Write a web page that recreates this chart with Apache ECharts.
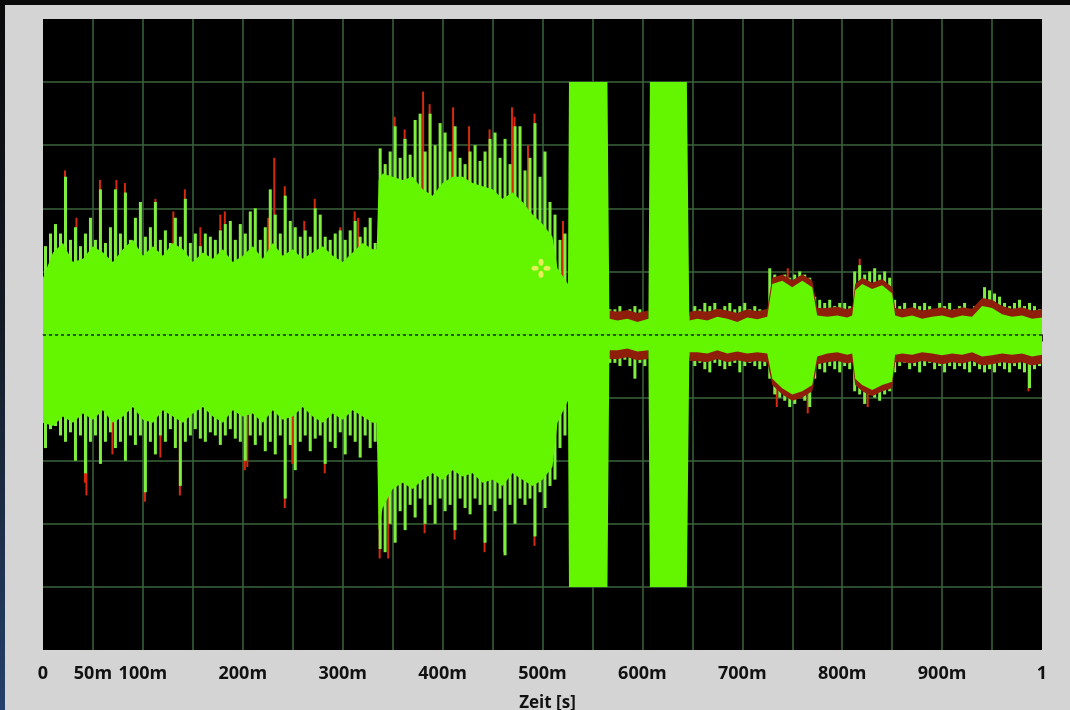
<!DOCTYPE html>
<html>
<head>
<meta charset="utf-8">
<script src="https://cdn.jsdelivr.net/npm/echarts@6/dist/echarts.min.js"></script>
<style>
  html, body { margin: 0; padding: 0; width: 1070px; height: 710px; overflow: hidden;
    background: linear-gradient(to bottom, #0a0a0b 0%, #141a24 45%, #25406a 100%); }
  #chart { position: absolute; left: 5px; top: 5px; width: 1065px; height: 705px; }
</style>
</head>
<body>
<div id="chart"></div>
<script>
// envelope of the signal (1 unit = 1 grid division)
var bodyT = [0, 0.01, 0.02, 0.03, 0.04, 0.05, 0.06, 0.07, 0.08, 0.09, 0.10, 0.11, 0.12, 0.13, 0.14, 0.15, 0.16,
  0.17, 0.18, 0.19, 0.20, 0.21, 0.22, 0.23, 0.24, 0.25, 0.26, 0.27, 0.28, 0.29, 0.30, 0.31, 0.32, 0.33, 0.334,
  0.336, 0.34, 0.35, 0.36, 0.37, 0.38, 0.39, 0.40, 0.41, 0.42, 0.43, 0.44, 0.45, 0.46, 0.47, 0.48, 0.49, 0.50, 0.51, 0.515, 0.5255,
  0.5265, 0.565, 0.567,
  0.575, 0.585, 0.595, 0.606,
  0.6075, 0.6445, 0.647,
  0.655, 0.665, 0.675, 0.685, 0.695, 0.705, 0.715, 0.725,
  0.73, 0.74, 0.75, 0.76, 0.77, 0.775,
  0.785, 0.795, 0.805, 0.81,
  0.813, 0.82, 0.83, 0.84, 0.85, 0.853,
  0.86, 0.87, 0.88, 0.89, 0.90, 0.91, 0.92, 0.93, 0.94, 0.95, 0.96, 0.97, 0.98, 0.99, 1.0];

var bodyUp = [0.9, 1.3, 1.45, 1.15, 1.2, 1.4, 1.3, 1.15, 1.35, 1.5, 1.25, 1.4, 1.25, 1.45, 1.35, 1.15, 1.3,
  1.2, 1.35, 1.15, 1.25, 1.4, 1.2, 1.45, 1.25, 1.35, 1.2, 1.3, 1.4, 1.25, 1.15, 1.3, 1.45, 1.35, 1.35,
  2.45, 2.55, 2.5, 2.45, 2.5, 2.3, 2.2, 2.4, 2.5, 2.5, 2.4, 2.35, 2.3, 2.15, 2.25, 2.1, 1.9, 1.75, 1.55, 1.05, 0.8,
  4, 4, 0.25,
  0.22, 0.25, 0.2, 0.25,
  4, 4, 0.22,
  0.25, 0.22, 0.28, 0.25, 0.2, 0.27, 0.24, 0.28,
  0.8, 0.85, 0.75, 0.85, 0.75, 0.3,
  0.28, 0.3, 0.27, 0.3,
  0.7, 0.8, 0.72, 0.78, 0.65, 0.3,
  0.27, 0.3, 0.25, 0.28, 0.3, 0.26, 0.3, 0.28, 0.45, 0.42, 0.32, 0.28, 0.3, 0.25, 0.27];

var bodyDn = [-1.4, -1.45, -1.3, -1.4, -1.25, -1.35, -1.2, -1.4, -1.3, -1.15, -1.35, -1.4, -1.2, -1.3, -1.4, -1.25, -1.15,
  -1.3, -1.4, -1.2, -1.3, -1.25, -1.4, -1.2, -1.35, -1.3, -1.15, -1.3, -1.4, -1.25, -1.35, -1.2, -1.3, -1.4, -1.4,
  -3.1, -2.75, -2.45, -2.35, -2.45, -2.3, -2.2, -2.3, -2.15, -2.25, -2.2, -2.35, -2.3, -2.4, -2.2, -2.3, -2.4, -2.3, -2.1, -1.4, -1.05,
  -4, -4, -0.25,
  -0.25, -0.22, -0.27, -0.25,
  -4, -4, -0.28,
  -0.28, -0.3, -0.25, -0.3, -0.27, -0.3, -0.28, -0.3,
  -0.7, -0.85, -0.95, -0.9, -0.8, -0.35,
  -0.3, -0.28, -0.32, -0.3,
  -0.7, -0.8, -0.88, -0.8, -0.75, -0.32,
  -0.3, -0.32, -0.28, -0.3, -0.33, -0.3, -0.32, -0.28, -0.35, -0.33, -0.3, -0.32, -0.3, -0.35, -0.32];

// red fringe, only where the trace is quiet (null = no fringe visible)
var redUp = [null, null, null, null, null, null, null, null, null, null, null, null, null, null, null, null, null,
  null, null, null, null, null, null, null, null, null, null, null, null, null, null, null, null, null, null,
  null, null, null, null, null, null, null, null, null, null, null, null, null, null, null, null, null, null, null, null, null,
  null, null, 0.38,
  0.36, 0.39, 0.34, 0.38,
  null, null, 0.36,
  0.38, 0.36, 0.41, 0.38, 0.34, 0.4, 0.37, 0.41,
  0.9, 0.95, 0.86, 0.95, 0.86, 0.42,
  0.42, 0.44, 0.4, 0.43,
  0.8, 0.9, 0.82, 0.88, 0.75, 0.42,
  0.4, 0.43, 0.38, 0.41, 0.43, 0.39, 0.43, 0.41, 0.58, 0.55, 0.45, 0.41, 0.43, 0.38, 0.4];

var redDn = [null, null, null, null, null, null, null, null, null, null, null, null, null, null, null, null, null,
  null, null, null, null, null, null, null, null, null, null, null, null, null, null, null, null, null, null,
  null, null, null, null, null, null, null, null, null, null, null, null, null, null, null, null, null, null, null, null, null,
  null, null, -0.39,
  -0.39, -0.36, -0.41, -0.39,
  null, null, -0.42,
  -0.42, -0.44, -0.39, -0.44, -0.41, -0.44, -0.42, -0.44,
  -0.8, -0.95, -1.05, -1.0, -0.9, -0.47,
  -0.44, -0.42, -0.46, -0.44,
  -0.8, -0.9, -0.98, -0.9, -0.85, -0.44,
  -0.44, -0.46, -0.42, -0.44, -0.47, -0.44, -0.46, -0.42, -0.49, -0.47, -0.44, -0.46, -0.44, -0.49, -0.46];

// tallest spike in each 5 ms slot (null where the trace is clipped at +-4)
var spikeStart = 0.0025, spikeStep = 0.005;
var spikeUp = [1.4, 1.6, 1.75, 1.6, 2.5, 1.5, 1.7, 1.4, 1.6, 1.85,
  1.5, 2.3, 1.45, 1.7, 2.3, 1.6, 2.25, 1.5, 1.85, 2.1,
  1.55, 1.7, 2.1, 1.5, 1.65, 1.45, 1.85, 1.55, 2.15, 1.45,
  1.6, 1.4, 1.6, 1.55, 1.5, 1.65, 1.75, 1.8, 1.5, 1.75,
  1.6, 1.95, 2.0, 1.5, 1.7, 2.3, 1.9, 1.6, 2.2, 1.8,
  1.7, 1.55, 1.65, 1.55, 2.0, 1.9, 1.55, 1.5, 1.6, 1.65,
  1.5, 1.65, 1.8, 1.55, 1.7, 1.85, 1.45, 2.95, 2.7, 2.9,
  3.3, 2.8, 3.1, 2.85, 3.4, 3.5, 2.9, 3.5, 3.0, 3.35,
  3.2, 2.9, 3.3, 2.8, 2.7, 2.9, 3.0, 2.75, 2.9, 3.1,
  3.2, 2.8, 3.1, 2.7, 3.3, 3.3, 2.6, 2.8, 3.35, 2.5,
  2.9, 2.1, 1.9, 1.5, 1.6, null, null, null, null, null,
  null, null, null, 0.4, 0.4, 0.45, 0.35, 0.4, 0.45, 0.4,
  0.35, null, null, null, null, null, null, null, null, 0.3,
  0.45, 0.4, 0.5, 0.45, 0.5, 0.4, 0.45, 0.5, 0.4, 0.45,
  0.5, 0.4, 0.45, 0.4, 0.35, 1.05, 0.95, 0.9, 0.95, 0.9,
  0.95, 1.0, 0.95, 0.9, 0.6, 0.55, 0.5, 0.55, 0.45, 0.5,
  0.5, 0.45, 1.0, 1.1, 0.95, 1.0, 1.05, 0.95, 1.0, 0.9,
  0.55, 0.45, 0.5, 0.4, 0.5, 0.45, 0.5, 0.45, 0.4, 0.5,
  0.45, 0.5, 0.4, 0.45, 0.5, 0.4, 0.45, 0.5, 0.75, 0.7,
  0.65, 0.6, 0.5, 0.45, 0.5, 0.55, 0.45, 0.5, 0.45, 0.4];

var spikeDn = [-1.8, -1.5, -1.45, -1.6, -1.7, -1.55, -2.0, -1.6, -2.2, -1.7,
  -1.6, -2.05, -1.7, -1.55, -1.8, -1.7, -2.0, -1.6, -1.75, -1.6,
  -2.5, -1.7, -1.9, -1.6, -1.7, -1.5, -1.8, -2.4, -1.7, -1.6,
  -1.5, -1.65, -1.7, -1.55, -1.6, -1.75, -1.6, -1.5, -1.65, -1.7,
  -2.0, -1.6, -1.75, -1.6, -1.85, -1.7, -1.9, -1.6, -2.6, -1.75,
  -2.15, -1.7, -1.6, -1.85, -1.65, -1.6, -2.05, -1.7, -1.8, -1.55,
  -1.9, -1.6, -1.7, -1.95, -1.6, -1.8, -1.7, -3.4, -3.45, -3.0,
  -3.3, -2.8, -3.1, -2.7, -2.9, -2.6, -3.0, -2.7, -3.0, -2.6,
  -2.8, -2.7, -3.1, -2.6, -2.75, -2.85, -2.6, -2.7, -3.3, -2.7,
  -2.8, -2.6, -3.5, -2.7, -3.0, -2.6, -2.7, -2.6, -3.2, -2.5,
  -2.75, -2.4, -2.3, -1.8, -1.6, null, null, null, null, null,
  null, null, null, -0.45, -0.45, -0.5, -0.4, -0.5, -0.7, -0.45,
  -0.5, null, null, null, null, null, null, null, null, -0.35,
  -0.5, -0.45, -0.55, -0.6, -0.45, -0.5, -0.55, -0.5, -0.45, -0.6,
  -0.5, -0.45, -0.5, -0.55, -0.5, -0.7, -0.95, -1.0, -1.05, -1.15,
  -1.1, -1.0, -1.05, -1.15, -0.7, -0.55, -0.6, -0.5, -0.55, -0.6,
  -0.5, -0.55, -0.9, -0.95, -1.1, -0.95, -1.0, -1.05, -0.95, -0.9,
  -0.6, -0.5, -0.45, -0.55, -0.5, -0.6, -0.5, -0.45, -0.55, -0.5,
  -0.6, -0.5, -0.55, -0.5, -0.55, -0.6, -0.5, -0.55, -0.6, -0.55,
  -0.6, -0.5, -0.55, -0.6, -0.5, -0.55, -0.6, -0.85, -0.55, -0.5];

// red tips poking out past the green trace
var redPeaks = [[0.0225, 2.6], [0.034, 1.85], [0.0575, 2.45], [0.074, 2.45], [0.0825, 2.4], [0.113, 2.15],
  [0.131, 1.95], [0.158, 1.7], [0.1425, 2.3], [0.178, 1.9], [0.1825, 1.95], [0.226, 1.85], [0.232, 2.8],
  [0.2425, 2.35], [0.262, 1.8], [0.2725, 2.15], [0.298, 1.7], [0.316, 1.85], [0.3125, 1.95], [0.343, 2.7],
  [0.3525, 3.45], [0.362, 3.1], [0.3625, 3.25], [0.381, 3.85], [0.3875, 3.65], [0.411, 3.6], [0.427, 3.3],
  [0.4475, 3.25], [0.47, 3.6], [0.4725, 3.45], [0.486, 3.0], [0.4925, 3.5], [0.521, 1.8],
  [0.746, 1.05], [0.818, 1.2],
  [0.0425, -2.35], [0.044, -2.55], [0.07, -1.9], [0.1025, -2.65], [0.118, -1.95], [0.1375, -2.55],
  [0.205, -2.1], [0.2025, -2.15], [0.25, -2.05], [0.2425, -2.75], [0.2825, -2.2], [0.3375, -3.55],
  [0.346, -3.55], [0.3825, -3.15], [0.4125, -3.25], [0.443, -3.25], [0.4425, -3.45], [0.462, -3.45],
  [0.4925, -3.35], [0.735, -1.15], [0.766, -1.25], [0.826, -1.15], [0.987, -0.9]];

// cursor cross sitting on the trace
var cursorPos = [0.4985, 1.05];

var green = '#64f500';
var spikeGreen = '#80ee40';
var red = '#8e1e0a';
var gridGreen = '#3b633b';

var chart = echarts.init(document.getElementById('chart'));

function pairs(xs, ys) {
  var out = [];
  for (var i = 0; i < xs.length; i++) out.push([xs[i], ys[i]]);
  return out;
}
function spikePairs(ys) {
  var out = [];
  for (var i = 0; i < ys.length; i++) {
    if (ys[i] !== null) out.push([spikeStart + i * spikeStep, ys[i]]);
  }
  return out;
}
function areaSeries(name, data, color) {
  return {
    name: name, type: 'line', data: data, symbol: 'none', silent: true, connectNulls: false,
    lineStyle: { width: 0 },
    areaStyle: { color: color, opacity: 1 }
  };
}
function cursorDot(dx, dy, w, h) {
  return { coord: cursorPos, symbol: 'circle', symbolSize: [w, h], symbolOffset: [dx, dy] };
}

var option = {
  animation: false,
  backgroundColor: '#d4d4d4',
  grid: {
    left: 38, top: 14, width: 999, height: 631, outerBoundsMode: 'none',
    show: true, backgroundColor: '#000000', borderWidth: 0
  },
  xAxis: {
    type: 'value', min: 0, max: 1, interval: 0.05,
    name: 'Zeit [s]', nameLocation: 'middle', nameGap: 45,
    nameTextStyle: { color: '#111111', fontFamily: 'Open Sans', fontWeight: 'bold', fontSize: 17, padding: [0, 0, 0, 10] },
    axisLine: { show: true, lineStyle: { color: '#555555', width: 1 } },
    axisTick: { show: true, length: 7, lineStyle: { color: '#2a2a2a', width: 1 } },
    minorTick: { show: true, splitNumber: 5, length: 4, lineStyle: { color: '#2a2a2a', width: 1 } },
    axisLabel: {
      margin: 15, color: '#111111', fontFamily: 'Open Sans', fontWeight: 'bold', fontSize: 18,
      formatter: function (v) {
        var ms = Math.round(v * 1000);
        if (ms === 0) return '0';
        if (ms === 1000) return '1';
        if (ms === 50 || ms % 100 === 0) return ms + 'm';
        return '';
      }
    },
    splitLine: { show: true, showMinLine: false, showMaxLine: false, lineStyle: { color: gridGreen, width: 1.5 } }
  },
  yAxis: {
    type: 'value', min: -5, max: 5, interval: 1,
    axisLine: { show: false }, axisTick: { show: false }, axisLabel: { show: false },
    splitLine: { show: true, showMinLine: false, showMaxLine: false, lineStyle: { color: gridGreen, width: 1.5 } }
  },
  series: [
    areaSeries('rot oben', pairs(bodyT, redUp), red),
    areaSeries('rot unten', pairs(bodyT, redDn), red),
    areaSeries('grün oben', pairs(bodyT, bodyUp), green),
    areaSeries('grün unten', pairs(bodyT, bodyDn), green),
    {
      name: 'rote Spitzen', type: 'bar', data: redPeaks, barWidth: 2, barGap: '-100%',
      itemStyle: { color: '#d62a0e' }, silent: true
    },
    {
      name: 'Spitzen oben', type: 'bar', data: spikePairs(spikeUp), barWidth: 3, barGap: '-100%',
      itemStyle: { color: spikeGreen }, silent: true,
      markPoint: {
        silent: true, label: { show: false },
        itemStyle: { color: '#e6ee5a' },
        data: [cursorDot(-6, 0, 7, 5), cursorDot(6, 0, 7, 5), cursorDot(0, -6, 5, 7), cursorDot(0, 6, 5, 7)]
      }
    },
    {
      name: 'Spitzen unten', type: 'bar', data: spikePairs(spikeDn), barWidth: 3, barGap: '-100%',
      itemStyle: { color: spikeGreen }, silent: true,
      markLine: {
        silent: true, symbol: ['none', 'none'], label: { show: false },
        lineStyle: { color: '#1b6400', width: 2, type: [3, 3] },
        data: [{ yAxis: 0 }]
      }
    }
  ]
};
chart.setOption(option);
</script>
</body>
</html>
